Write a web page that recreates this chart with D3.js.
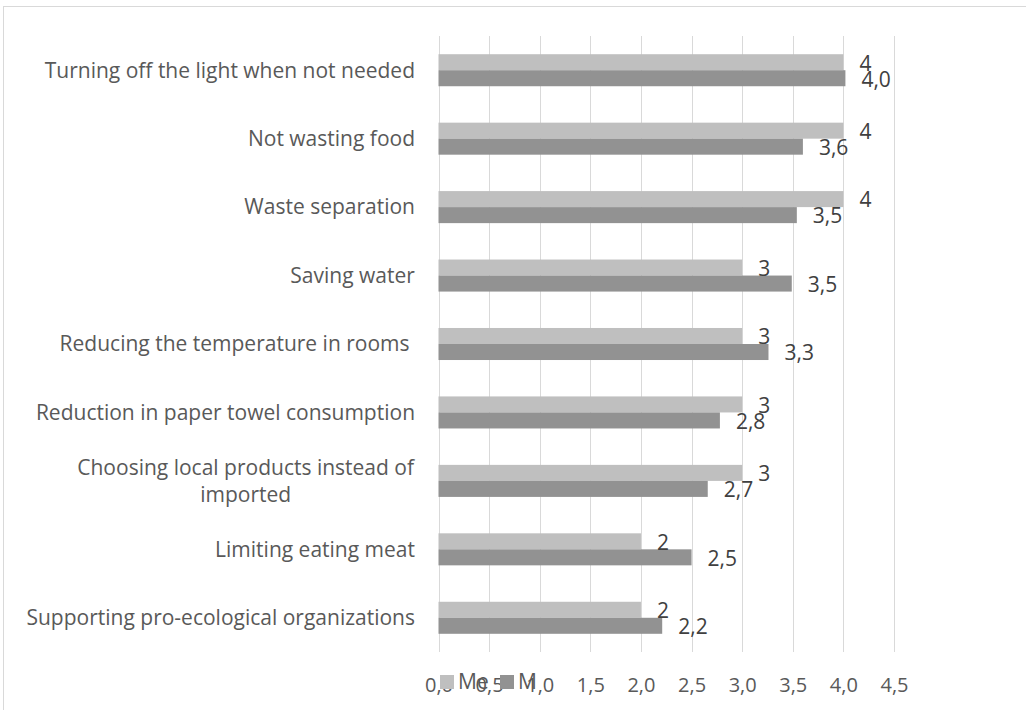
<!DOCTYPE html>
<html>
<head>
<meta charset="utf-8">
<script src="https://cdn.jsdelivr.net/npm/d3@7"></script>
<style>
  html, body { margin: 0; padding: 0; background: #fff; }
  svg { display: block; font-family: "Open Sans", sans-serif; }
</style>
</head>
<body>
<svg id="chart" width="1026" height="710"></svg>
<script>
const categories = [
  "Turning off the light when not needed",
  "Not wasting food",
  "Waste separation",
  "Saving water",
  "Reducing the temperature in rooms ",
  "Reduction in paper towel consumption",
  "Choosing local products instead of imported",
  "Limiting eating meat",
  "Supporting pro-ecological organizations"
];
const categoryLines = [
  ["Turning off the light when not needed"],
  ["Not wasting food"],
  ["Waste separation"],
  ["Saving water"],
  ["Reducing the temperature in rooms\u00a0"],
  ["Reduction in paper towel consumption"],
  ["Choosing local products instead of", "imported"],
  ["Limiting eating meat"],
  ["Supporting pro-ecological organizations"]
];
const seriesNames = ["Me", "M"];
const meValues = [4, 4, 4, 3, 3, 3, 3, 2, 2];
const mValues = [4.02, 3.6, 3.54, 3.49, 3.26, 2.78, 2.66, 2.5, 2.21];
const meLabels = ["4", "4", "4", "3", "3", "3", "3", "2", "2"];
const mLabels = ["4,0", "3,6", "3,5", "3,5", "3,3", "2,8", "2,7", "2,5", "2,2"];
const xTicks = [0, 0.5, 1, 1.5, 2, 2.5, 3, 3.5, 4, 4.5];
const xTickLabels = ["0,0", "0,5", "1,0", "1,5", "2,0", "2,5", "3,0", "3,5", "4,0", "4,5"];
const colors = ["#bfbfbf", "#929292"];

const svg = d3.select("#chart");
const plot = { left: 438.5, right: 894, top: 36, bottom: 652 };
const FS = 21;

// chart frame
svg.append("rect")
  .attr("x", 3.5).attr("y", 6.5)
  .attr("width", 1040).attr("height", 720)
  .attr("fill", "#fff").attr("stroke", "#d9d9d9").attr("stroke-width", 1);

const x = d3.scaleLinear().domain([0, 4.5]).range([plot.left, plot.right]);
const y = d3.scaleBand().domain(categories).range([plot.top, plot.bottom]).paddingInner(0.532).paddingOuter(0.266);
const sub = d3.scaleBand().domain(seriesNames).range([0, y.bandwidth()]);

// gridlines
svg.append("g").selectAll("line").data(xTicks).join("line")
  .attr("x1", d => Math.round(x(d)) + 0.5).attr("x2", d => Math.round(x(d)) + 0.5)
  .attr("y1", plot.top).attr("y2", plot.bottom)
  .attr("stroke", "#d9d9d9").attr("stroke-width", 1);

// x tick labels
const xAxis = d3.axisBottom(x).tickValues(xTicks).tickFormat((d, i) => xTickLabels[i]).tickSize(0).tickPadding(0);
const xg = svg.append("g").attr("transform", `translate(0,${plot.bottom})`).call(xAxis);
xg.select(".domain").remove();
xg.selectAll("text")
  .attr("y", 33).attr("dy", "0.35em")
  .attr("font-family", "Open Sans, sans-serif")
  .attr("font-size", 20).attr("fill", "#595959");

// category labels
const catG = svg.append("g");
categoryLines.forEach((lines, i) => {
  const cy = y(categories[i]) + y.bandwidth() / 2;
  const lh = 27;
  const t = catG.append("text")
    .attr("font-size", FS).attr("fill", "#595959")
    .attr("text-anchor", "middle");
  lines.forEach((ln, j) => {
    t.append("tspan").attr("x", 0)
      .attr("y", cy + (j - (lines.length - 1) / 2) * lh)
      .attr("dy", "0.35em")
      .text(ln);
  });
  const w = t.node().getBBox().width;
  t.attr("transform", `translate(${415 - w / 2},0)`);
});

// bars
const series = [meValues, mValues];
const labels = [meLabels, mLabels];
seriesNames.forEach((s, si) => {
  svg.append("g").selectAll("rect").data(series[si]).join("rect")
    .attr("x", x(0))
    .attr("y", (d, i) => y(categories[i]) + sub(s))
    .attr("width", d => x(d) - x(0))
    .attr("height", sub.bandwidth())
    .attr("fill", colors[si]);
});
// data labels
seriesNames.forEach((s, si) => {
  svg.append("g").selectAll("text").data(series[si]).join("text")
    .attr("x", d => x(d) + 16)
    .attr("y", (d, i) => y(categories[i]) + sub(s) + sub.bandwidth() / 2 + 1)
    .attr("dy", "0.35em")
    .attr("font-size", FS).attr("fill", "#404040")
    .text((d, i) => labels[si][i]);
});

// legend (overlapping axis labels as in the reference)
const leg = svg.append("g");
const legItems = [{ name: "Me", x: 440, c: colors[0] }, { name: "M", x: 500, c: colors[1] }];
legItems.forEach(it => {
  leg.append("rect").attr("x", it.x).attr("y", 675).attr("width", 14).attr("height", 14).attr("fill", it.c);
  leg.append("text").attr("x", it.x + 18).attr("y", 682).attr("dy", "0.35em")
    .attr("font-size", FS).attr("fill", "#595959").text(it.name);
});
</script>
</body>
</html>
